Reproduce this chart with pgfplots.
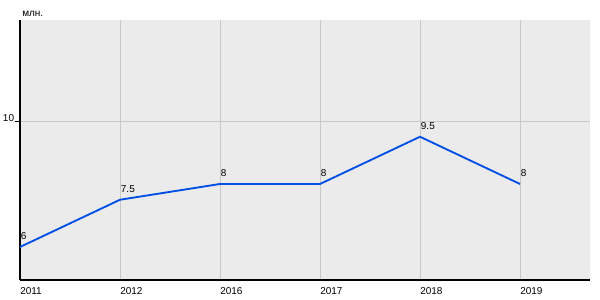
\documentclass[border=0pt]{standalone}
\usepackage{pgfplots}
\pgfplotsset{compat=1.18}
\usepackage{fontspec}
\setmainfont{Liberation Sans}
\definecolor{bgc}{RGB}{235,235,235}
\definecolor{gridc}{RGB}{200,200,200}
\definecolor{linec}{RGB}{0,80,230}
\begin{document}
\begin{tikzpicture}
\path[use as bounding box] (-15pt,-15pt) rectangle (435pt,210pt);
\begin{axis}[
  at={(0,0)}, anchor=south west,
  scale only axis, width=427.5pt, height=195pt,
  xmin=0, xmax=5.7, ymin=4.952, ymax=13.206,
  axis x line=bottom, axis y line=left,
  axis line style={-, black, line width=0.8pt},
  axis background/.style={fill=bgc},
  xtick={0,1,2,3,4,5},
  xticklabels={2011,2012,2016,2017,2018,2019},
  ytick={10},
  grid=major,
  major grid style={gridc, line width=0.6pt},
  xtick style={draw=none},
  ytick style={black, line width=0.6pt},
  tick align=outside,
  major tick length=3.75pt,
  font=\fontsize{7.5}{9}\selectfont,
  /pgf/number format/assume math mode=true,
  xticklabel style={anchor=north west, inner sep=0pt, yshift=-1.5pt},
  yticklabel style={inner sep=0.5pt, yshift=2pt},
  nodes near coords,
  nodes near coords style={anchor=south west, inner sep=0pt, yshift=5pt, font=\fontsize{7.5}{9}\selectfont, black},
  clip=false,
]
\addplot[linec, line width=1.4pt, mark=none] coordinates {
  (0,6) (1,7.5) (2,8) (3,8) (4,9.5) (5,8)
};
\end{axis}
\node[anchor=south west, inner sep=0pt, font=\fontsize{7.5}{9}\selectfont] at (1.5pt,197pt) {млн.};
\end{tikzpicture}
\end{document}
